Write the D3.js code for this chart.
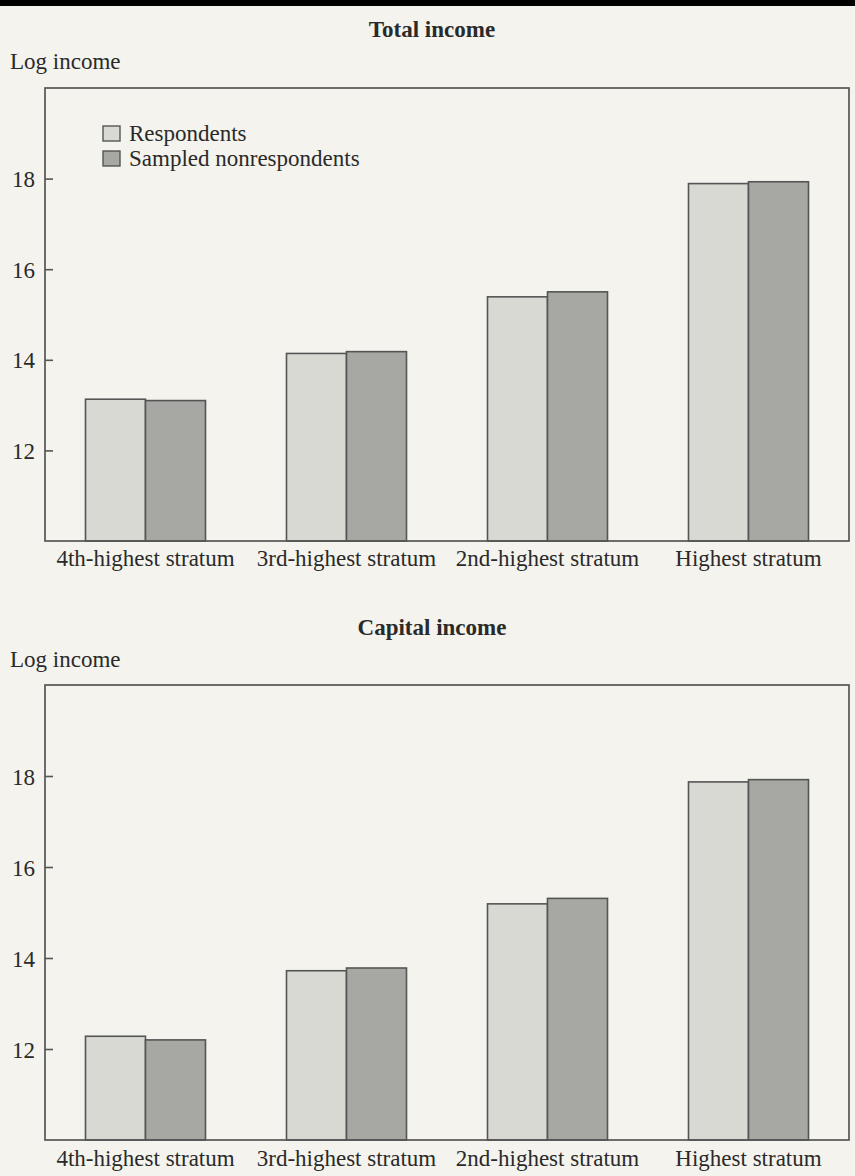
<!DOCTYPE html>
<html>
<head>
<meta charset="utf-8">
<script src="https://cdn.jsdelivr.net/npm/d3@7"></script>
<style>
  html, body { margin: 0; padding: 0; background: #f4f3ed; }
  svg { display: block; }
  text { font-family: "Liberation Serif", "Times New Roman", serif; fill: #2a2a2a; }
</style>
</head>
<body>
<svg id="chart" width="855" height="1176"></svg>
<script>
const categories = ["4th-highest stratum", "3rd-highest stratum", "2nd-highest stratum", "Highest stratum"];
const seriesNames = ["Respondents", "Sampled nonrespondents"];
const totalRespondents = [13.13, 14.14, 15.39, 17.89];
const totalNonrespondents = [13.10, 14.18, 15.50, 17.93];
const capitalRespondents = [12.28, 13.72, 15.19, 17.87];
const capitalNonrespondents = [12.20, 13.78, 15.31, 17.92];
const yTicks = [12, 14, 16, 18];
const yDomain = [10, 20];
const panelTitles = ["Total income", "Capital income"];
const yAxisLabel = "Log income";

const colors = ["#d9d9d4", "#a7a7a3"];
const strokeCol = "#555";

const svg = d3.select("#chart");
svg.append("rect").attr("x", 0).attr("y", 0).attr("width", 855).attr("height", 6).attr("fill", "#000");

const panels = [
  { title: panelTitles[0], series: [totalRespondents, totalNonrespondents], titleY: 37, labelY: 69, top: 88, bottom: 541, catY: 566, legend: true },
  { title: panelTitles[1], series: [capitalRespondents, capitalNonrespondents], titleY: 635, labelY: 667, top: 685, bottom: 1140, catY: 1166, legend: false }
];

const left = 45, right = 849;
const fs = 23;

panels.forEach(p => {
  const x = d3.scaleBand().domain(categories).range([left, right]).paddingInner(0.403).paddingOuter(0.2015);
  const xs = d3.scaleBand().domain(seriesNames).range([0, x.bandwidth()]);
  const y = d3.scaleLinear().domain(yDomain).range([p.bottom, p.top]);

  svg.append("text").attr("x", 432).attr("y", p.titleY).attr("text-anchor", "middle")
    .attr("font-size", fs).attr("font-weight", "bold").text(p.title);
  svg.append("text").attr("x", 10).attr("y", p.labelY).attr("font-size", fs).text(yAxisLabel);

  // bars
  const g = svg.append("g");
  p.series.forEach((vals, si) => {
    g.selectAll(null).data(categories).enter().append("rect")
      .attr("x", (c) => x(c) + xs(seriesNames[si]))
      .attr("y", (c, i) => y(vals[i]))
      .attr("width", xs.bandwidth())
      .attr("height", (c, i) => y(yDomain[0]) - y(vals[i]))
      .attr("fill", colors[si])
      .attr("stroke", strokeCol)
      .attr("stroke-width", 1.6);
  });

  // frame
  svg.append("rect").attr("x", left).attr("y", p.top).attr("width", right - left).attr("height", p.bottom - p.top)
    .attr("fill", "none").attr("stroke", "#555").attr("stroke-width", 1.7);

  // y axis (ticks inward)
  const ya = svg.append("g").attr("transform", `translate(${left},0)`)
    .call(d3.axisRight(y).tickValues(yTicks).tickSize(8).tickFormat(d3.format("d")));
  ya.select(".domain").remove();
  ya.selectAll(".tick line").attr("stroke", "#555").attr("stroke-width", 1.6);
  ya.selectAll(".tick text").attr("x", -10).attr("text-anchor", "end").attr("font-size", fs)
    .attr("font-family", "Liberation Serif").attr("fill", "#2a2a2a").attr("dy", "0.35em");

  // x category labels
  const xa = svg.append("g").attr("transform", `translate(0,${p.bottom})`)
    .call(d3.axisBottom(x).tickSize(0).tickPadding(0));
  xa.select(".domain").remove();
  xa.selectAll(".tick text").attr("y", p.catY - p.bottom).attr("dy", 0).attr("font-size", fs)
    .attr("font-family", "Liberation Serif").attr("fill", "#2a2a2a");

  if (p.legend) {
    const lg = svg.append("g");
    seriesNames.forEach((s, i) => {
      lg.append("rect").attr("x", 103).attr("y", 126 + i * 25).attr("width", 17).attr("height", 15)
        .attr("fill", colors[i]).attr("stroke", strokeCol).attr("stroke-width", 1.4);
      lg.append("text").attr("x", 129).attr("y", 141 + i * 25).attr("font-size", fs).text(s);
    });
  }
});
</script>
</body>
</html>
